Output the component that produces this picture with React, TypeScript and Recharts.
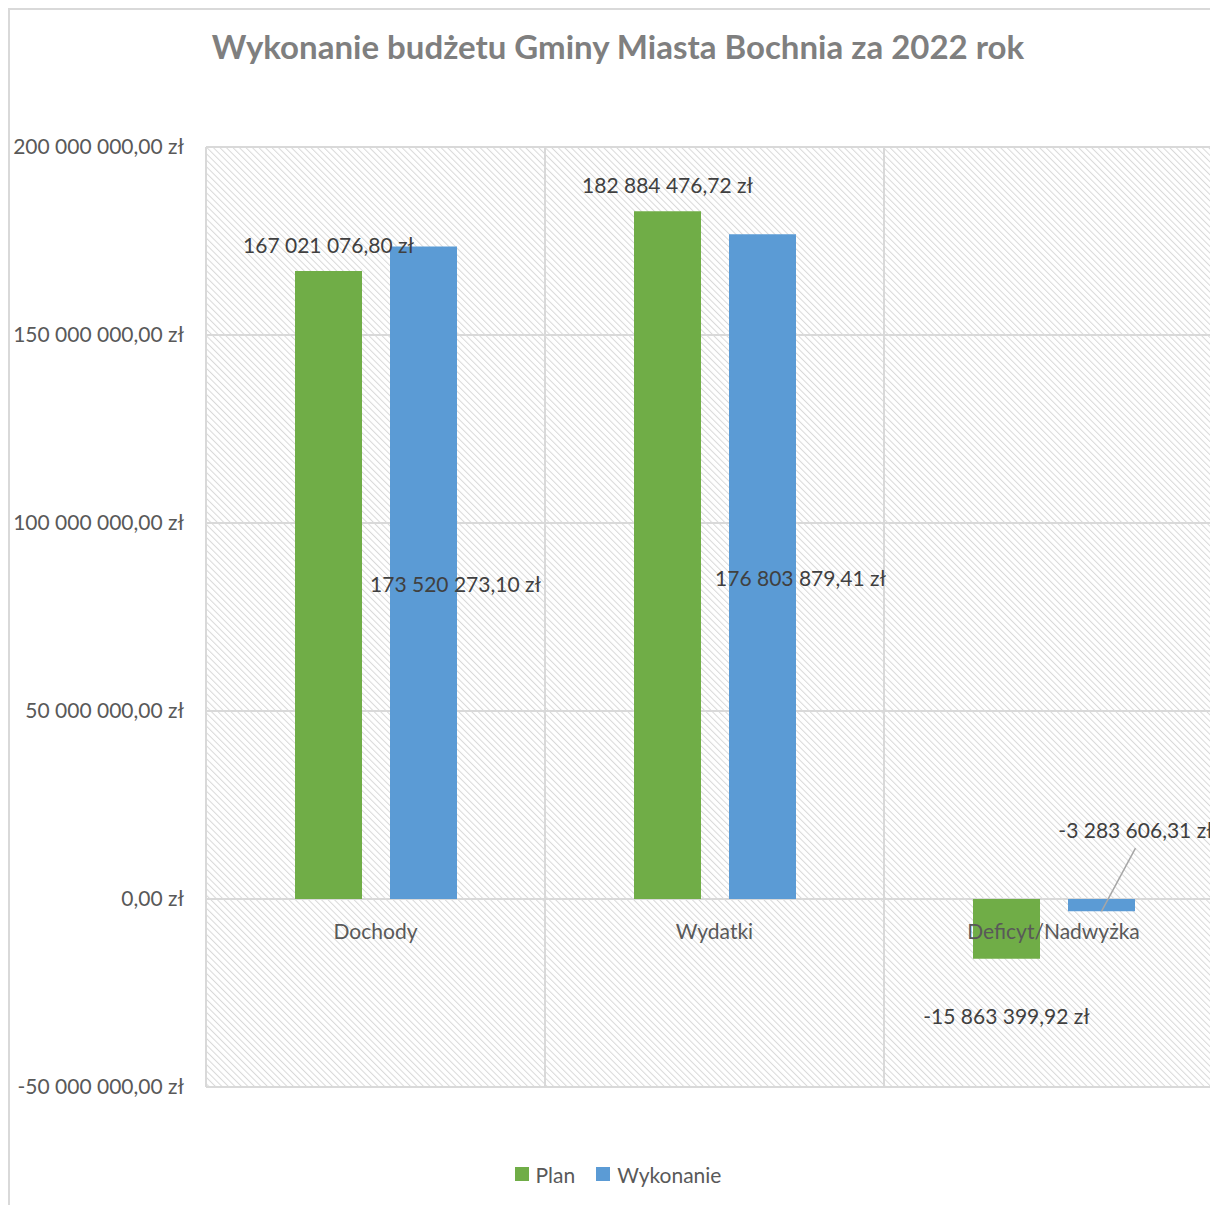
import { BarChart, Bar, XAxis, YAxis, CartesianGrid, Legend, LabelList } from 'recharts'

const categories = ['Dochody', 'Wydatki', 'Deficyt/Nadwyżka']
const planValues = [167021076.8, 182884476.72, -15863399.92]
const wykonanieValues = [173520273.1, 176803879.41, -3283606.31]
const yTicks = [-50000000, 0, 50000000, 100000000, 150000000, 200000000]
const seriesNames = ['Plan', 'Wykonanie']

const data = categories.map((name, i) => ({ name, plan: planValues[i], wykonanie: wykonanieValues[i] }))

const CHART_W = 1216
const CHART_H = 1195
const MARGIN = { top: 137, right: 3, bottom: 88, left: 10 }
const X_AXIS_H = 30
const PLOT_H = CHART_H - MARGIN.top - MARGIN.bottom - X_AXIS_H
const Y_MIN = -50000000
const Y_MAX = 200000000
const ZERO_FROM_BOTTOM = (PLOT_H * (0 - Y_MIN)) / (Y_MAX - Y_MIN)

const FONT = 'Lato, "Open Sans", sans-serif'
const GREEN = '#70ad47'
const BLUE = '#5b9bd5'
const LABEL_SIZE = 21

// label offsets for the Wykonanie series, relative to the middle of its bar
const wykLabelShift = [
  { dx: 32, dy: 11 },
  { dx: 38, dy: 11 },
  { dx: 34, dy: -76 },
]

function fmt(v: number) {
  const neg = v < 0
  const [int, dec] = Math.abs(v).toFixed(2).split('.')
  const grouped = int.replace(/\B(?=(\d{3})+(?!\d))/g, ' ')
  return (neg ? '-' : '') + grouped + ',' + dec + ' zł'
}

function box(props: any) {
  const vb = props.viewBox ?? props
  const x = Number(vb.x)
  const y = Number(vb.y)
  const w = Number(vb.width)
  const h = Number(vb.height)
  return { cx: x + w / 2, top: Math.min(y, y + h), bottom: Math.max(y, y + h) }
}

function PlanLabel(props: any) {
  const { cx, top, bottom } = box(props)
  const v = Number(props.value)
  const ty = v >= 0 ? top - 27 : bottom + 57
  return (
    <text x={cx} y={ty} textAnchor="middle" dominantBaseline="central" fill="#404040" fontSize={LABEL_SIZE} fontFamily={FONT}>
      {fmt(v)}
    </text>
  )
}

function WykLabel(props: any) {
  const { cx, top, bottom } = box(props)
  const v = Number(props.value)
  const s = wykLabelShift[props.index] ?? { dx: 0, dy: 0 }
  const mid = (top + bottom) / 2
  const tx = cx + s.dx
  const ty = mid + s.dy
  return (
    <g>
      {v < 0 && <line x1={tx} y1={ty + 19} x2={cx} y2={bottom} stroke="#a6a6a6" strokeWidth={1.5} />}
      <text x={tx} y={ty} textAnchor="middle" dominantBaseline="central" fill="#404040" fontSize={LABEL_SIZE} fontFamily={FONT}>
        {fmt(v)}
      </text>
    </g>
  )
}

function CategoryTick(props: any) {
  const { x, y, payload } = props
  return (
    <text x={x} y={y - ZERO_FROM_BOTTOM + 31} textAnchor="middle" dominantBaseline="central" fill="#595959" fontSize={LABEL_SIZE} fontFamily={FONT}>
      {payload.value}
    </text>
  )
}

function LegendBox() {
  const colors = [GREEN, BLUE]
  return (
    <div style={{ display: 'flex', justifyContent: 'center', alignItems: 'center', gap: 21, fontFamily: FONT, fontSize: 21, color: '#595959', height: 26 }}>
      {seriesNames.map((n, i) => (
        <div key={n} style={{ display: 'flex', alignItems: 'center', gap: 7 }}>
          <span style={{ width: 14, height: 14, background: colors[i], display: 'inline-block' }} />
          <span>{n}</span>
        </div>
      ))}
    </div>
  )
}

export default function App() {
  return (
    <div
      style={{
        position: 'relative',
        width: 1220,
        height: 1210,
        overflow: 'hidden',
        boxSizing: 'border-box',
        borderLeft: '2px solid #d9d9d9',
        borderTop: '2px solid #d9d9d9',
        background: '#fff',
      }}
    >
      <style>{'html, body { overflow: hidden; }'}</style>
      <svg width={0} height={0} style={{ position: 'absolute' }}>
        <defs>
          <pattern id="hatch" patternUnits="userSpaceOnUse" width={4.6} height={4.6} patternTransform="rotate(-45)">
            <rect width={4.6} height={4.6} fill="#ffffff" />
            <line x1={0} y1={0} x2={0} y2={4.6} stroke="#d9d9d9" strokeWidth={2} />
          </pattern>
        </defs>
      </svg>
      <div
        style={{
          position: 'absolute',
          top: 16,
          left: 0,
          width: CHART_W,
          lineHeight: '40px',
          textAlign: 'center',
          fontFamily: FONT,
          fontWeight: 700,
          fontSize: 33,
          color: '#7f7f7f',
          zIndex: 1,
        }}
      >
        Wykonanie budżetu Gminy Miasta Bochnia za 2022 rok
      </div>
      <BarChart width={CHART_W} height={CHART_H} data={data} margin={MARGIN} barSize={67} barGap={28}>
        <CartesianGrid
          fill="url(#hatch)"
          stroke="#d9d9d9"
          strokeWidth={2}
          verticalCoordinatesGenerator={({ offset }: any) =>
            [0, 1, 2, 3].map(i => offset.left + (i * offset.width) / categories.length)
          }
        />
        <YAxis
          type="number"
          domain={[Y_MIN, Y_MAX]}
          ticks={yTicks}
          width={186}
          axisLine={false}
          tickLine={false}
          tickSize={0}
          tickMargin={22}
          tickFormatter={(v: number) => fmt(v)}
          tick={{ fill: '#595959', fontSize: LABEL_SIZE, fontFamily: FONT }}
          interval={0}
        />
        <Bar dataKey="plan" name="Plan" fill={GREEN} isAnimationActive={false}>
          <LabelList dataKey="plan" content={PlanLabel} />
        </Bar>
        <Bar dataKey="wykonanie" name="Wykonanie" fill={BLUE} isAnimationActive={false}>
          <LabelList dataKey="wykonanie" content={WykLabel} />
        </Bar>
        <XAxis
          dataKey="name"
          height={X_AXIS_H}
          axisLine={false}
          tickLine={false}
          tickSize={0}
          tickMargin={0}
          tick={CategoryTick}
          interval={0}
        />
        <Legend
          verticalAlign="middle"
          align="center"
          content={LegendBox}
          wrapperStyle={{ top: 1151, left: 0, width: CHART_W }}
        />
      </BarChart>
    </div>
  )
}
